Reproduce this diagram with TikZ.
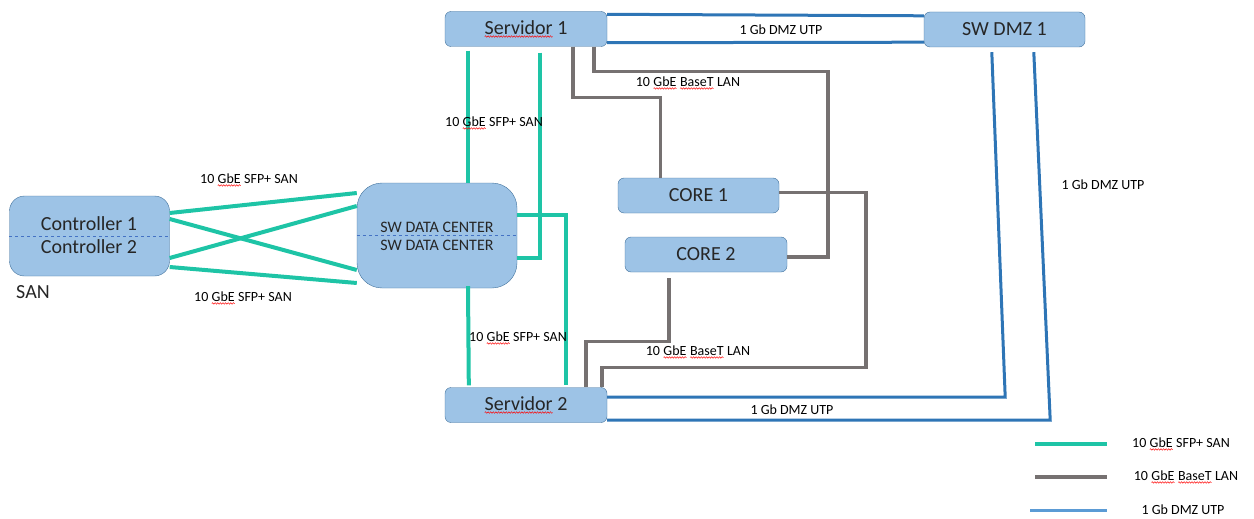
\documentclass[tikz,border=0pt]{standalone}
\usepackage{fontspec}
\setmainfont{Carlito}
\usetikzlibrary{calc,decorations.pathmorphing}
\definecolor{myfill}{HTML}{9DC3E6}
\definecolor{myedge}{HTML}{41719C}
\definecolor{myteal}{RGB}{30,196,166}
\definecolor{mygray}{RGB}{118,113,113}
\definecolor{myblue}{HTML}{2E75B6}
\definecolor{mylightblue}{HTML}{5B9BD5}
\definecolor{mydash}{HTML}{4472C4}
\definecolor{mytext}{HTML}{262626}
% red spell-check wave under a word
\newcommand\spell[1]{\tikz[baseline=(w.base), sharp corners]{\node[inner sep=0pt, outer sep=0pt, minimum width=0pt, minimum height=0pt, draw=none, fill=none] (w) {#1};
	\draw[red, line width=0.45pt, decorate, decoration={snake, amplitude=0.8pt, segment length=2.6pt}] ([yshift=-2.2pt]w.base west) -- ([yshift=-2.2pt]w.base east);}}

\begin{document}
\begin{tikzpicture}[x=1pt, y=-1pt,
		box/.style = {draw=myedge, fill=myfill, rounded corners=6pt, minimum width=162pt, minimum height=35pt, inner sep=0pt, text=mytext, font=\fontsize{20}{24}\selectfont},
		big/.style = {text=mytext, inner sep=0pt, font=\fontsize{20}{24}\selectfont},
		lbl/.style = {text=black, inner sep=0pt, font=\fontsize{14}{16}\selectfont},
		san/.style = {draw=myteal, line width=4pt},
		lan/.style = {draw=mygray, line width=3.5pt},
		dmz/.style = {draw=myblue, line width=3pt},
		divider/.style = {draw=mydash, dashed, line width=1pt}]
		\useasboundingbox (0,0) rectangle (1254,519);

		% boxes
		\node[box, minimum width=160pt, minimum height=80pt, rounded corners=15pt] (ctrl) at (89.5,236) {};
		\node[box, minimum width=160pt, minimum height=105pt, rounded corners=25pt] (swdc) at (437,235.5) {};
		\node[box] (srv1) at (526,29) {\spell{Servidor} 1};
		\node[box] (srv2) at (526,405) {\spell{Servidor} 2};
		\node[box, minimum width=161pt] (dmz1) at (1004.5,29.5) {SW DMZ 1};
		\node[box, minimum width=161pt] (core1) at (698.5,195.5) {CORE 1};
		\node[box, minimum width=162pt] (core2) at (706,254.5) {CORE 2};

		\draw[divider] (ctrl.west) -- (ctrl.east);
		\draw[divider] (swdc.west) -- (swdc.east);
		\node[big] (ctrl1) at (89,224) {Controller 1};
		\node[big] (ctrl2) at (89,247) {Controller 2};
		\node[big] (san) at (33,292) {SAN};
		\node[big, font=\fontsize{16}{18}\selectfont] (swdc1) at (437,227) {SW DATA CENTER};
		\node[big, font=\fontsize{16}{18}\selectfont] (swdc2) at (437,245) {SW DATA CENTER};

		% 10 GbE SFP+ SAN
		\draw[san] ($(ctrl.east)+(0,-23)$) -- ($(swdc.west)+(0,-42.5)$);
		\draw[san] ($(ctrl.east)+(0,-17)$) -- ($(swdc.west)+(0,34.5)$);
		\draw[san] ($(ctrl.east)+(0,22)$) -- ($(swdc.west)+(0,-29.5)$);
		\draw[san] ($(ctrl.east)+(0,31)$) -- ($(swdc.west)+(0,47.5)$);
		\draw[san] ($(srv1.south west)+(23,4)$) coordinate (s1a) -- (s1a |- swdc.north);
		\draw[san] ($(srv1.south west)+(95,6)$) |- ($(swdc.east)+(0,22.5)$);
		\draw[san] ($(swdc.east)+(0,-20.5)$) -| ($(srv2.north west)+(121,-2)$);
		\draw[san] ($(swdc.south)+(31,-2)$) -- ($(srv2.north west)+(24,-2)$);

		% 10 GbE BaseT LAN
		\draw[lan] ($(srv1.south west)+(128,0)$) -- ++(0,51) -| ($(core1.north)+(-38,0)$);
		\draw[lan] ($(srv1.south west)+(149,0)$) -- ++(0,25) -| ($(core2.east)+(41,2.5)$) -- ($(core2.east)+(0,2.5)$);
		\draw[lan] ($(core1.east)+(0,-3)$) -| ($(srv2.north east)+(259,-20)$) -| ($(srv2.north west)+(157,0)$);
		\draw[lan] ($(core2.south)+(-37,6)$) |- ($(srv2.north west)+(141,-46)$) -- ($(srv2.north west)+(141,0)$);

		% 1 Gb DMZ UTP
		\draw[dmz] ($(srv1.north east)+(0,3)$) -- ($(dmz1.north west)+(0,4)$);
		\draw[dmz] ($(srv1.south east)+(0,-4)$) -- ($(dmz1.south west)+(0,-5)$);
		\draw[dmz] ($(dmz1.south west)+(68,5)$) -- ($(srv2.east)+(398,-8)$) -- ($(srv2.east)+(0,-8)$);
		\draw[dmz] ($(dmz1.south west)+(110,5)$) -- ($(srv2.east)+(443,15)$) -- ($(srv2.east)+(0,15)$);

		% labels
		\node[lbl] (l1) at (249,180) {10 \spell{GbE} SFP+ SAN};
		\node[lbl] (l2) at (243,298) {10 \spell{GbE} SFP+ SAN};
		\node[lbl] (l3) at (494,123) {10 \spell{GbE} SFP+ SAN};
		\node[lbl] (l4) at (518,338) {10 \spell{GbE} SFP+ SAN};
		\node[lbl] (l5) at (688,83) {10 \spell{GbE} \spell{BaseT} LAN};
		\node[lbl] (l6) at (698,352) {10 \spell{GbE} \spell{BaseT} LAN};
		\node[lbl] (l7) at (781,30) {1 Gb DMZ UTP};
		\node[lbl] (l8) at (1103,185) {1 Gb DMZ UTP};
		\node[lbl] (l9) at (792,410) {1 Gb DMZ UTP};

		% legend
		\draw[san] (1035,444) -- (1107,444);
		\draw[lan] (1035,477) -- (1107,477);
		\draw[dmz, draw=mylightblue] (1030,510) -- (1107,510);
		\node[lbl] (leg1) at (1181,444) {10 \spell{GbE} SFP+ SAN};
		\node[lbl] (leg2) at (1186,477) {10 \spell{GbE} \spell{BaseT} LAN};
		\node[lbl] (leg3) at (1183,510) {1 Gb DMZ UTP};
	\end{tikzpicture}
\end{document}
